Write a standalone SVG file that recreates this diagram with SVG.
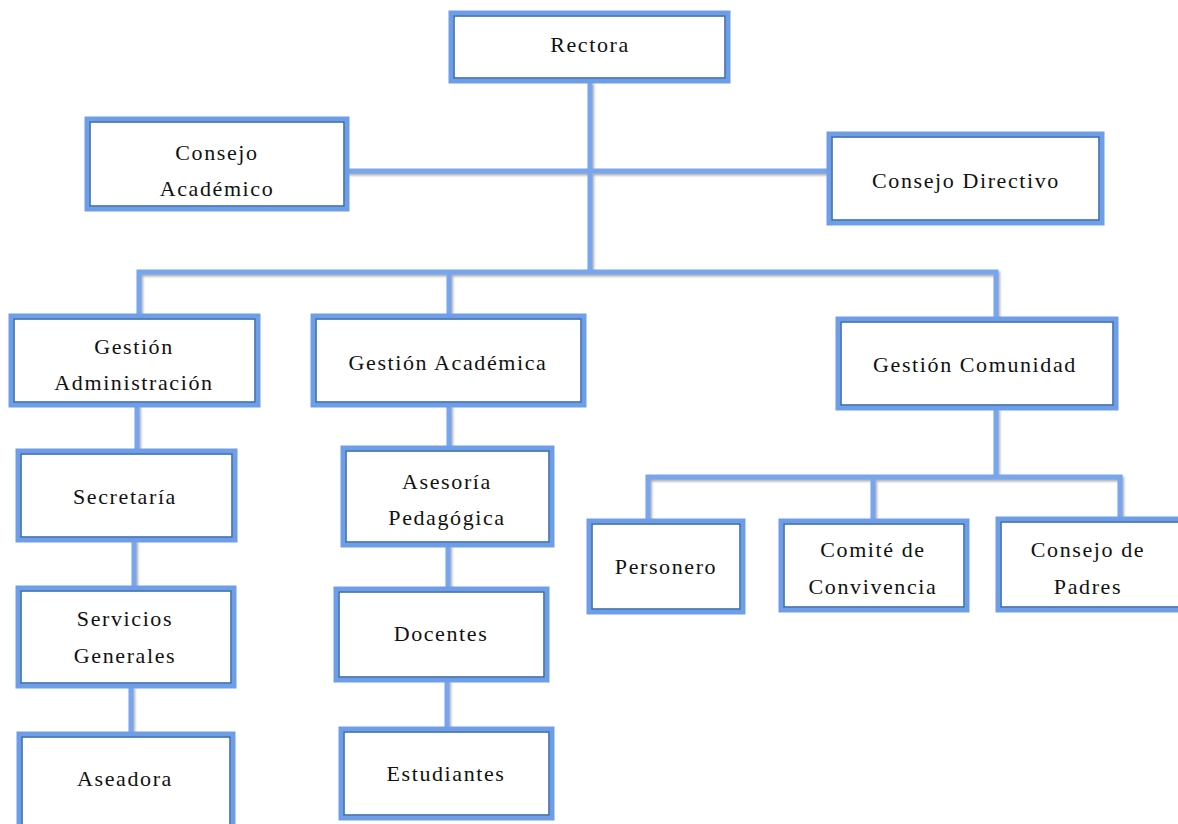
<svg xmlns="http://www.w3.org/2000/svg" width="1178" height="824" viewBox="0 0 1178 824">
<style>
.outer{fill:#fff;stroke:#6e9ee8;stroke-width:5}
.inner{fill:none;stroke:#2c66a6;stroke-width:1.5}
.t{font-size:22px;letter-spacing:1.6px;fill:#111;text-anchor:middle}
.c{fill:none;stroke:#78a6ee;stroke-width:5;stroke-linejoin:miter}
</style>
<defs>
<filter id="sh" x="-5%" y="-5%" width="110%" height="110%">
<feDropShadow dx="1.5" dy="2" stdDeviation="1" flood-color="#777" flood-opacity="0.6"/>
</filter>
</defs>
<rect width="1178" height="824" fill="#fff"/>
<g id="connectors" filter="url(#sh)">
<path class="c" d="M590 82 V270"/>
<path class="c" d="M347 171 H828"/>
<path class="c" d="M139 315 V272 H996 V318"/>
<path class="c" d="M449 272 V315"/>
<path class="c" d="M137 405 V450"/>
<path class="c" d="M134 540 V587"/>
<path class="c" d="M131 686 V733"/>
<path class="c" d="M449 405 V447"/>
<path class="c" d="M448 545 V588"/>
<path class="c" d="M447 680 V728"/>
<path class="c" d="M996 408 V477"/>
<path class="c" d="M648 520 V477 H1120 V518"/>
<path class="c" d="M873 477 V520"/>
</g>
<g font-family="'Liberation Serif', 'Times New Roman', 'DejaVu Serif', serif">
<g id="rectora"><rect class="outer" x="451" y="13" width="277" height="68"/><rect class="inner" x="454" y="16" width="271" height="62"/><text class="t" x="590" y="52">Rectora</text></g>
<g id="consejo-academico"><rect class="outer" x="87" y="119" width="260" height="90"/><rect class="inner" x="90" y="122" width="254" height="84"/><text class="t" x="217" y="160">Consejo</text><text class="t" x="217" y="196">Académico</text></g>
<g id="consejo-directivo"><rect class="outer" x="829" y="134" width="273" height="89"/><rect class="inner" x="832" y="137" width="267" height="83"/><text class="t" x="966" y="188">Consejo Directivo</text></g>
<g id="gestion-administracion"><rect class="outer" x="11" y="316" width="247" height="89"/><rect class="inner" x="14" y="319" width="241" height="83"/><text class="t" x="134" y="354">Gestión</text><text class="t" x="134" y="390">Administración</text></g>
<g id="gestion-academica"><rect class="outer" x="313" y="316" width="271" height="89"/><rect class="inner" x="316" y="319" width="265" height="83"/><text class="t" x="448" y="370">Gestión Académica</text></g>
<g id="gestion-comunidad"><rect class="outer" x="838" y="319" width="278" height="89"/><rect class="inner" x="841" y="322" width="272" height="83"/><text class="t" x="975" y="372">Gestión Comunidad</text></g>
<g id="secretaria"><rect class="outer" x="18" y="451" width="217" height="89"/><rect class="inner" x="21" y="454" width="211" height="83"/><text class="t" x="125" y="504">Secretaría</text></g>
<g id="servicios-generales"><rect class="outer" x="18" y="588" width="216" height="98"/><rect class="inner" x="21" y="591" width="210" height="92"/><text class="t" x="125" y="626">Servicios</text><text class="t" x="125" y="663">Generales</text></g>
<g id="aseadora"><rect class="outer" x="19" y="734" width="214" height="100"/><rect class="inner" x="22" y="737" width="208" height="94"/><text class="t" x="125" y="786">Aseadora</text></g>
<g id="asesoria-pedagogica"><rect class="outer" x="343" y="448" width="209" height="97"/><rect class="inner" x="346" y="451" width="203" height="91"/><text class="t" x="447" y="489">Asesoría</text><text class="t" x="447" y="525">Pedagógica</text></g>
<g id="docentes"><rect class="outer" x="336" y="589" width="211" height="91"/><rect class="inner" x="339" y="592" width="205" height="85"/><text class="t" x="441" y="641">Docentes</text></g>
<g id="estudiantes"><rect class="outer" x="341" y="729" width="211" height="89"/><rect class="inner" x="344" y="732" width="205" height="83"/><text class="t" x="446" y="781">Estudiantes</text></g>
<g id="personero"><rect class="outer" x="589" y="521" width="154" height="91"/><rect class="inner" x="592" y="524" width="148" height="85"/><text class="t" x="666" y="574">Personero</text></g>
<g id="comite-convivencia"><rect class="outer" x="781" y="521" width="186" height="89"/><rect class="inner" x="784" y="524" width="180" height="83"/><text class="t" x="873" y="557">Comité de</text><text class="t" x="873" y="594">Convivencia</text></g>
<g id="consejo-padres"><rect class="outer" x="998" y="519" width="190" height="91"/><rect class="inner" x="1001" y="522" width="184" height="85"/><text class="t" x="1088" y="557">Consejo de</text><text class="t" x="1088" y="594">Padres</text></g>
</g>
</svg>
